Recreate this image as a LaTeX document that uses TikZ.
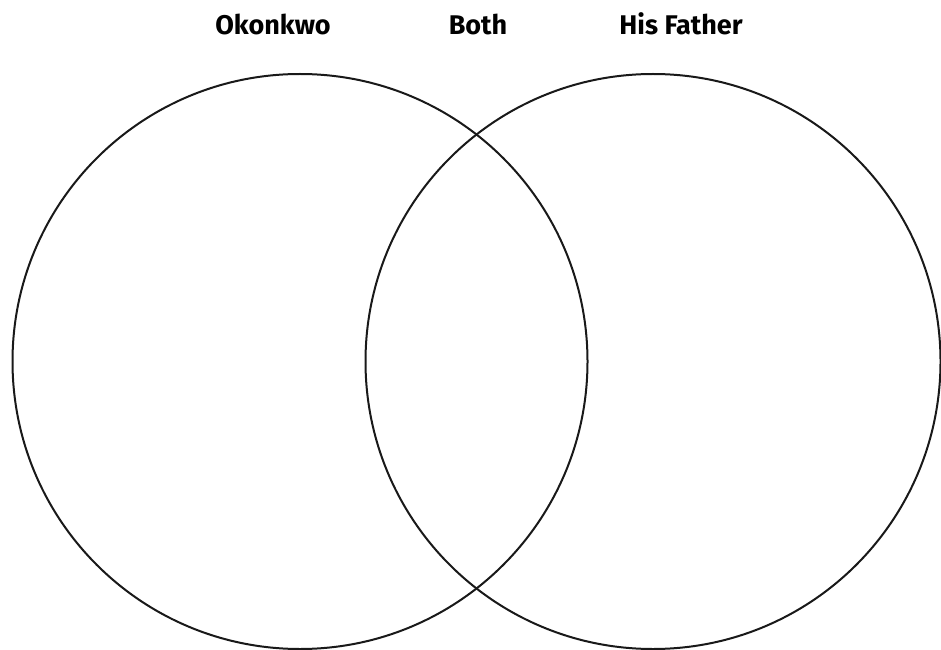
\documentclass[tikz,border=0pt]{standalone}
\usepackage{fontspec}
\setmainfont{Fira Sans}

\begin{document}
\begin{tikzpicture}[x=1pt,y=1pt]
\tikzset{ring/.style={draw=black!90, line width=2pt},
  heading/.style={font=\bfseries\fontsize{27}{30}\selectfont, anchor=base, inner sep=0pt}}
\useasboundingbox (0,0) rectangle (941,649);
\draw[ring] (300,287.5) circle (287.5);
\draw[ring] (653,287.5) circle (287.5);
\node[heading] (okonkwo) at (273,614) {Okonkwo};
\node[heading] (both) at (478,614) {Both};
\node[heading] (father) at (681,614) {His Father};
\end{tikzpicture}
\end{document}
